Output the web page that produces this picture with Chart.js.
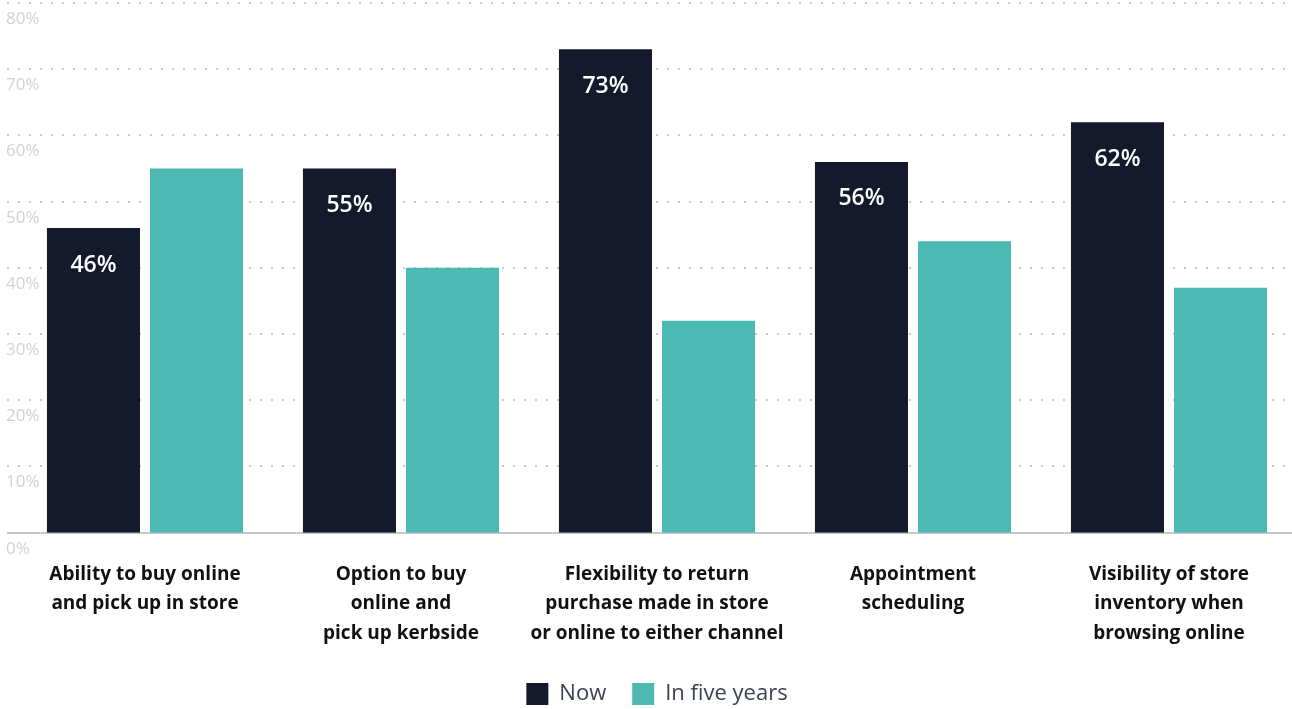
<!DOCTYPE html>
<html>
<head>
<meta charset="utf-8">
<script src="https://cdn.jsdelivr.net/npm/chart.js@4.4.1/dist/chart.umd.min.js"></script>
<style>
  html, body { margin: 0; padding: 0; background: #fff; overflow: hidden; }
  #wrap { position: absolute; left: 0; top: 0; width: 1297px; height: 715px; }
</style>
</head>
<body>
<div id="wrap"><canvas id="chart"></canvas></div>
<script>
const categories = [
  ["Ability to buy online", "and pick up in store"],
  ["Option to buy", "online and", "pick up kerbside"],
  ["Flexibility to return", "purchase made in store", "or online to either channel"],
  ["Appointment", "scheduling"],
  ["Visibility of store", "inventory when", "browsing online"]
];
const nowValues = [46, 55, 73, 56, 62];
const fiveYearValues = [55, 40, 32, 44, 37];
const yTicks = [0, 10, 20, 30, 40, 50, 60, 70, 80];

const NAVY = "#141a2b";
const TEAL = "#4cbab2";
const FONT = "'Open Sans', Roboto, sans-serif";

// dotted guides across the full width, solid zero line, and the % labels under each guide
const gridPlugin = {
  id: "dottedGrid",
  beforeDatasetsDraw(chart) {
    const ctx = chart.ctx;
    const y = chart.scales.y;
    ctx.save();
    yTicks.forEach(v => {
      const py = Math.round(y.getPixelForValue(v));
      ctx.beginPath();
      if (v === 0) {
        ctx.setLineDash([]);
        ctx.strokeStyle = "#c6c6c6";
      } else {
        ctx.setLineDash([2, 9]);
        ctx.strokeStyle = "#cbcbcb";
      }
      ctx.lineWidth = 2;
      ctx.moveTo(7, py);
      ctx.lineTo(chart.width, py);
      ctx.stroke();

      ctx.fillStyle = "#d2d2d2";
      ctx.font = "17px " + FONT;
      ctx.textAlign = "left";
      ctx.textBaseline = "middle";
      ctx.fillText(v + "%", 6, py + 16);
    });
    ctx.restore();
  }
};

// white value labels inside the "Now" bars
const valuePlugin = {
  id: "nowLabels",
  afterDatasetsDraw(chart) {
    const ctx = chart.ctx;
    const meta = chart.getDatasetMeta(0);
    ctx.save();
    ctx.fillStyle = "#ffffff";
    ctx.font = "600 23px " + FONT;
    ctx.textAlign = "center";
    ctx.textBaseline = "middle";
    meta.data.forEach((bar, i) => {
      ctx.fillText(nowValues[i] + "%", bar.x, bar.y + 37);
    });
    ctx.restore();
  }
};

new Chart(document.getElementById("chart"), {
  type: "bar",
  data: {
    labels: categories,
    datasets: [
      { label: "Now", data: nowValues, backgroundColor: NAVY },
      { label: "In five years", data: fiveYearValues, backgroundColor: TEAL }
    ]
  },
  options: {
    responsive: true,
    maintainAspectRatio: false,
    animation: false,
    categoryPercentage: 0.805,
    barPercentage: 0.903,
    layout: { padding: { left: 17, top: 3, right: 0, bottom: 0 } },
    scales: {
      x: {
        grid: { display: false },
        border: { display: false },
        afterFit(scale) { scale.height -= 10; },
        ticks: {
          color: "#111111",
          padding: 19,
          maxRotation: 0,
          autoSkip: false,
          font: { family: FONT, size: 19, weight: "bold", lineHeight: 1.55 }
        }
      },
      y: {
        min: 0,
        max: 80,
        grid: { display: false, drawTicks: false },
        border: { display: false },
        ticks: { display: false, stepSize: 10 }
      }
    },
    plugins: {
      tooltip: { enabled: false },
      legend: {
        position: "bottom",
        labels: {
          boxWidth: 22,
          boxHeight: 22,
          padding: 26,
          color: "#3c4253",
          font: { family: FONT, size: 22 }
        }
      }
    }
  },
  plugins: [gridPlugin, valuePlugin]
});
</script>
</body>
</html>
